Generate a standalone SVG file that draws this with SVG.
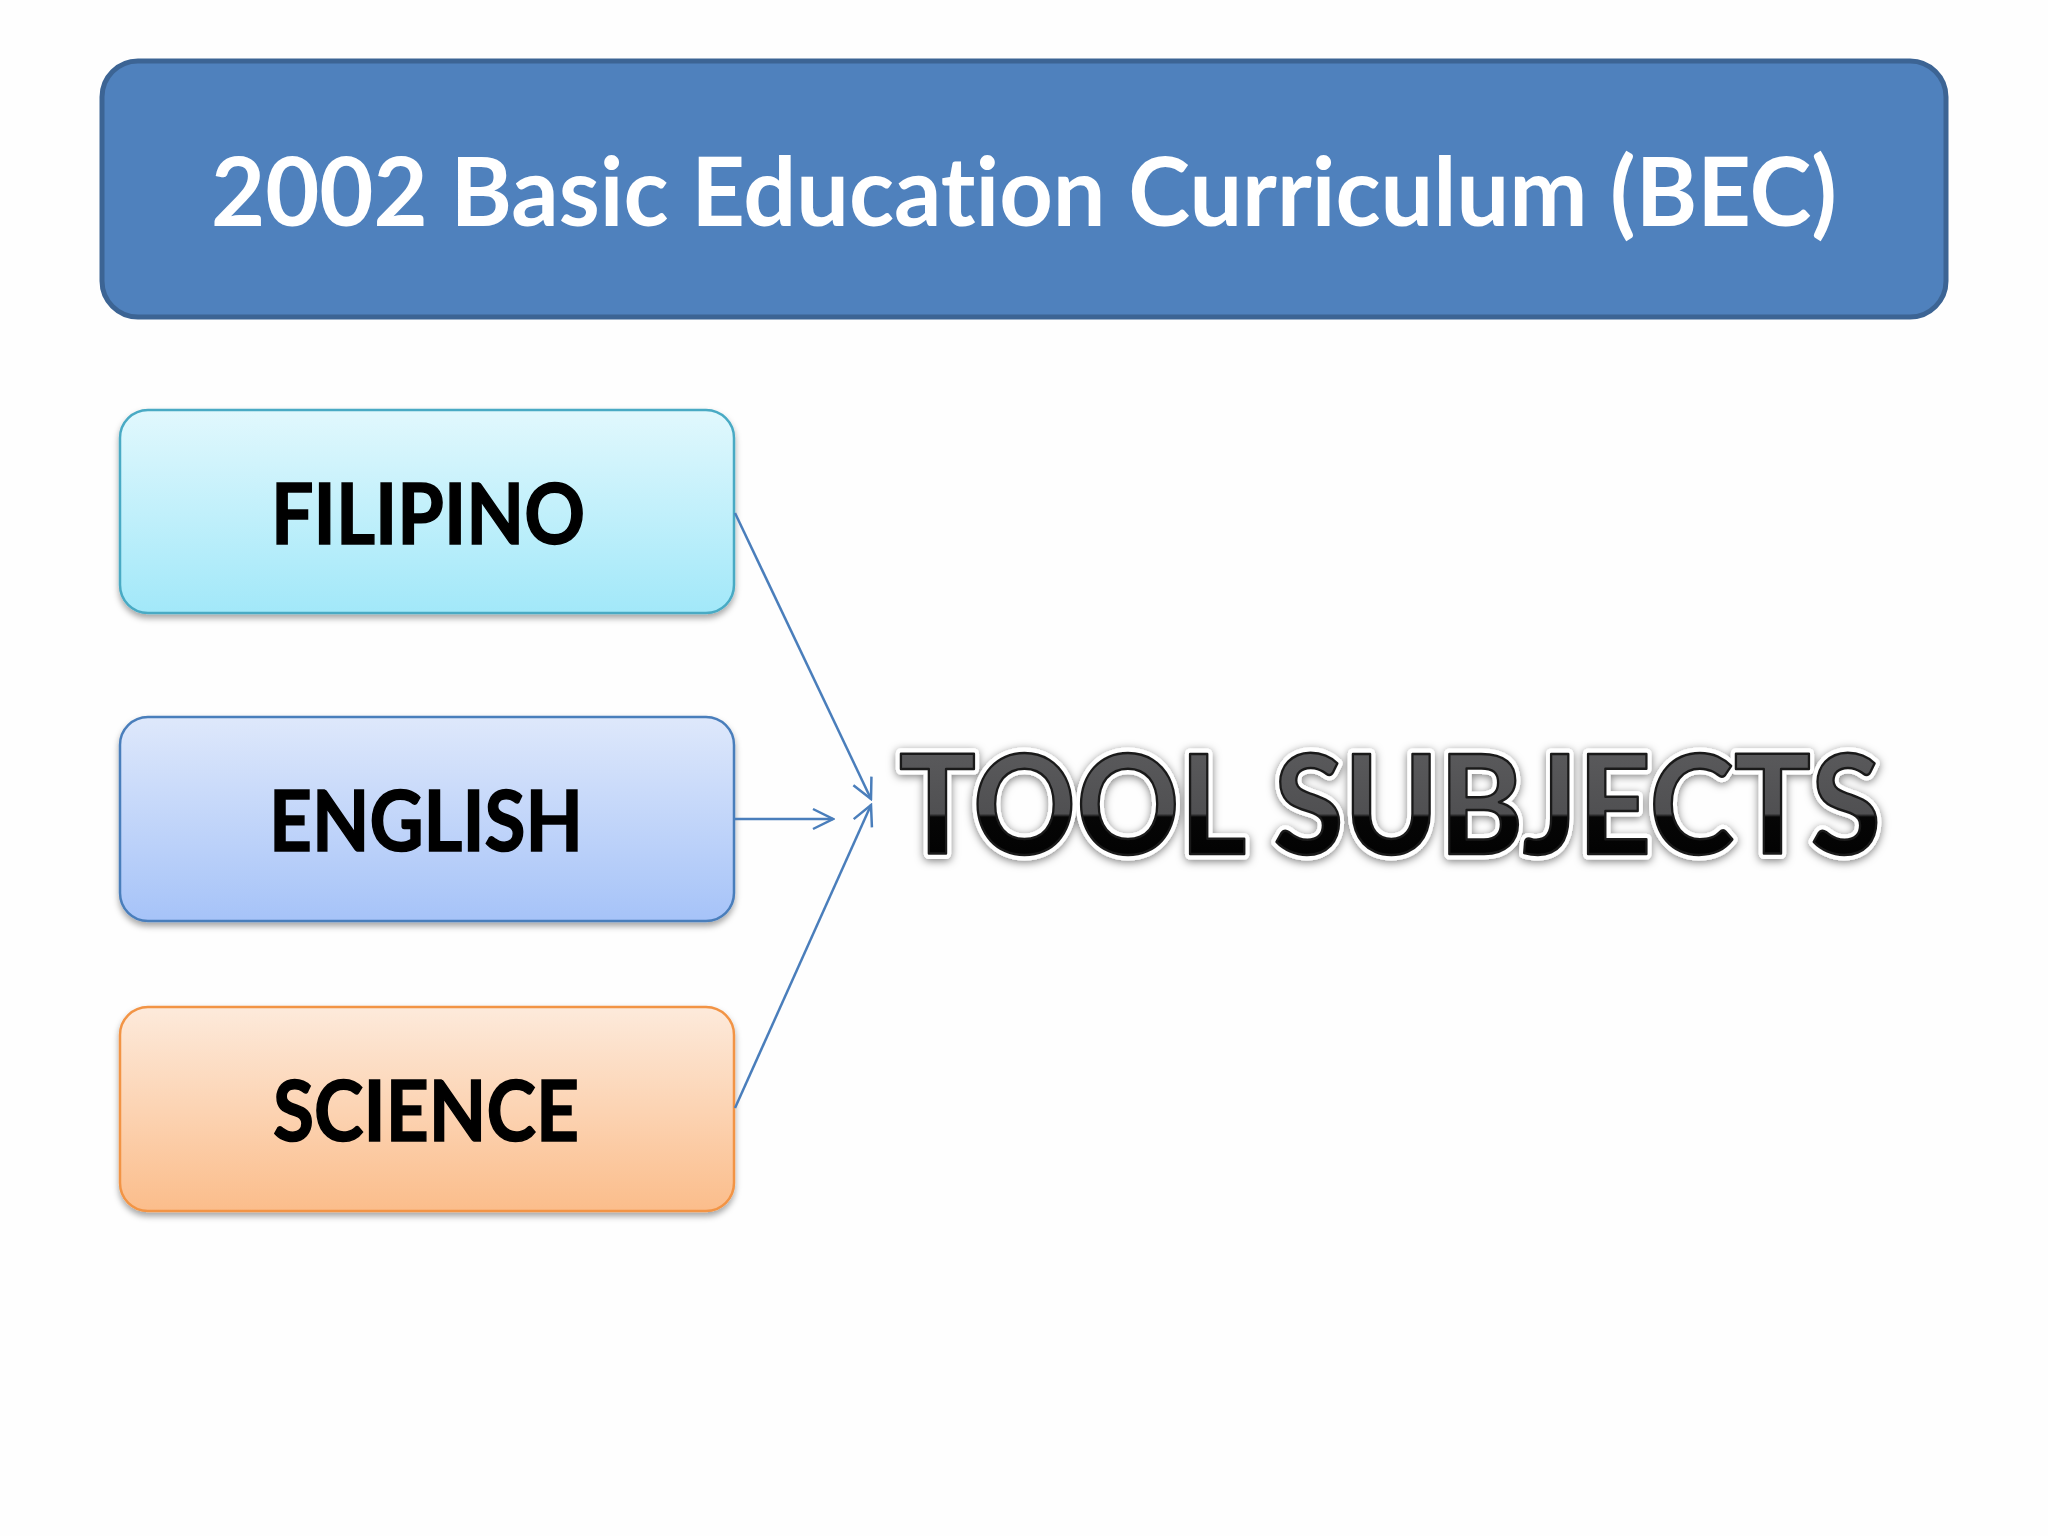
<svg xmlns="http://www.w3.org/2000/svg" width="2048" height="1536" viewBox="0 0 2048 1536">
<defs>
<style>
.lbl{font-family:Lato,"Open Sans","Liberation Sans",sans-serif;font-weight:bold;text-anchor:middle;font-variant-ligatures:none;font-feature-settings:"liga" 0}
.conn{stroke:#4A7EBB;stroke-width:2.5;fill:none}
</style>
<linearGradient id="gAqua" x1="0" y1="0" x2="0" y2="1"><stop offset="0" stop-color="#E1F8FD"/><stop offset="1" stop-color="#A2E8F9"/></linearGradient>
<linearGradient id="gBlue" x1="0" y1="0" x2="0" y2="1"><stop offset="0" stop-color="#DEE8FB"/><stop offset="1" stop-color="#A6C3F8"/></linearGradient>
<linearGradient id="gOrange" x1="0" y1="0" x2="0" y2="1"><stop offset="0" stop-color="#FDEADB"/><stop offset="1" stop-color="#FBBD8B"/></linearGradient>
<linearGradient id="gTool" x1="0" y1="0" x2="0" y2="1"><stop offset="0" stop-color="#5E5E60"/><stop offset="0.58" stop-color="#505052"/><stop offset="0.6" stop-color="#060606"/><stop offset="1" stop-color="#000000"/></linearGradient>
<filter id="shadow" x="-5%" y="-10%" width="110%" height="125%"><feDropShadow dx="0" dy="4" stdDeviation="3" flood-color="#000" flood-opacity="0.35"/></filter>
<filter id="glow" x="-5%" y="-20%" width="110%" height="140%"><feDropShadow dx="0" dy="2" stdDeviation="4" flood-color="#000" flood-opacity="0.5"/></filter>
<marker id="arr" viewBox="0 0 24 24" refX="22" refY="12" markerWidth="24" markerHeight="24" markerUnits="userSpaceOnUse" orient="auto"><path d="M2,2 L22,12 L2,22" fill="none" stroke="#4A7EBB" stroke-width="2.5"/></marker>
</defs>
<rect width="2048" height="1536" fill="#FEFEFE"/>

<g id="header">
<rect x="102" y="61" width="1844" height="256" rx="36" fill="#4F81BD" stroke="#3C6494" stroke-width="5"/>
<text class="lbl" x="1024" y="226" font-size="96" fill="#FFFFFF" textLength="1626" lengthAdjust="spacingAndGlyphs">2002 Basic Education Curriculum (BEC)</text>
</g>

<g id="filipino">
<rect x="120" y="410" width="614" height="203" rx="28" fill="url(#gAqua)" stroke="#48AAC4" stroke-width="2.5" filter="url(#shadow)"/>
<text class="lbl" x="428" y="544" font-size="84" fill="#000" stroke="#000" stroke-width="1.5" textLength="314" lengthAdjust="spacingAndGlyphs">FILIPINO</text>
</g>

<g id="english">
<rect x="120" y="717" width="614" height="204" rx="28" fill="url(#gBlue)" stroke="#4A7EBB" stroke-width="2.5" filter="url(#shadow)"/>
<text class="lbl" x="426" y="851" font-size="84" fill="#000" stroke="#000" stroke-width="1.5" textLength="314" lengthAdjust="spacingAndGlyphs">ENGLISH</text>
</g>

<g id="science">
<rect x="120" y="1007" width="614" height="204" rx="28" fill="url(#gOrange)" stroke="#F29445" stroke-width="2.5" filter="url(#shadow)"/>
<text class="lbl" x="426" y="1141" font-size="84" fill="#000" stroke="#000" stroke-width="1.5" textLength="306" lengthAdjust="spacingAndGlyphs">SCIENCE</text>
</g>

<g id="tool-subjects">
<text class="lbl" x="1390" y="854" font-size="138" fill="#FFFFFF" stroke="#FFFFFF" stroke-width="11" stroke-linejoin="round" textLength="982" lengthAdjust="spacingAndGlyphs" filter="url(#glow)">TOOL SUBJECTS</text>
<text class="lbl" x="1390" y="854" font-size="138" fill="url(#gTool)" stroke="#1A1A1A" stroke-width="2.5" stroke-linejoin="round" textLength="982" lengthAdjust="spacingAndGlyphs">TOOL SUBJECTS</text>
</g>

<g id="connectors">
<line class="conn" x1="735" y1="513" x2="871" y2="799" marker-end="url(#arr)"/>
<line class="conn" x1="735" y1="819" x2="833" y2="819" marker-end="url(#arr)"/>
<line class="conn" x1="735" y1="1108" x2="871" y2="805" marker-end="url(#arr)"/>
</g>
</svg>
